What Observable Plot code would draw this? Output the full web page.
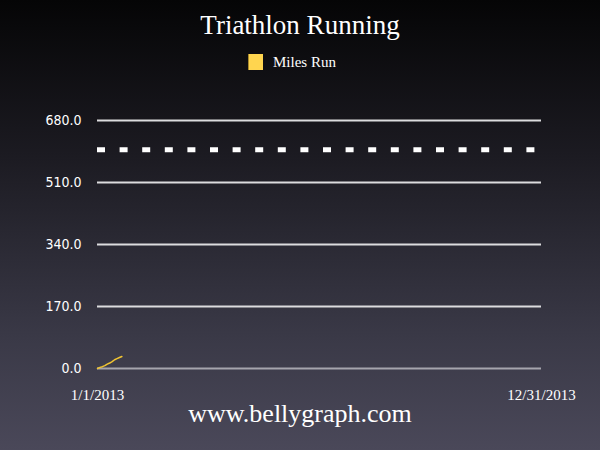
<!DOCTYPE html>
<html>
<head>
<meta charset="utf-8">
<script src="https://cdn.jsdelivr.net/npm/d3@7"></script>
<script src="https://cdn.jsdelivr.net/npm/@observablehq/plot@0.6"></script>
<style>
  html, body { margin: 0; padding: 0; background: #000; }
  #wrap {
    position: relative; width: 600px; height: 450px; overflow: hidden;
    background: linear-gradient(to bottom, #050506 0%, #1c1b22 35%, #3a3947 75%, #4a4859 100%);
    font-family: "Liberation Serif", "Times New Roman", serif; color: #fff;
  }
  #title { position: absolute; left: 0; width: 600px; top: 8px; text-align: center; font-size: 27px; line-height: 34px; }
  #legend { position: absolute; left: 248px; top: 53px; height: 18px; display: flex; align-items: center; font-size: 15px; }
  #legend .sw { width: 15px; height: 16px; background: #ffd54f; border-left: 1px solid #a8892c; box-sizing: border-box; margin-right: 10px; }
  #credit { position: absolute; left: 0; width: 600px; top: 398px; text-align: center; font-size: 26px; line-height: 32px; }
  #chart { position: absolute; left: 0; top: 0; }
</style>
</head>
<body>
<div id="wrap">
  <div id="title">Triathlon Running</div>
  <div id="legend"><div class="sw"></div><span>Miles Run</span></div>
  <div id="chart"></div>
  <div id="credit">www.bellygraph.com</div>
</div>
<script>
// Data
const runDates = ["2013-01-01","2013-01-03","2013-01-05","2013-01-07","2013-01-09","2013-01-11","2013-01-13","2013-01-15","2013-01-17","2013-01-19","2013-01-21"];
const runMiles = [0, 3, 5, 8, 12, 15, 19, 24, 27, 30, 33];
const yTicks = [0, 170, 340, 510, 680];
const xTickDates = ["2013-01-01", "2013-12-31"];
const xTickLabels = ["1/1/2013", "12/31/2013"];
const goalMiles = [600];

const parse = d3.utcParse("%Y-%m-%d");
const runs = runDates.map((d, i) => ({date: parse(d), miles: runMiles[i]}));
const xTicks = xTickDates.map(parse);

const plot = Plot.plot({
  width: 600,
  height: 450,
  marginLeft: 97,
  marginRight: 59,
  marginTop: 120,
  marginBottom: 82,
  style: {background: "transparent", color: "#fff", overflow: "visible"},
  x: {type: "utc", domain: [xTicks[0], xTicks[1]]},
  y: {domain: [0, 680]},
  marks: [
    Plot.ruleY(yTicks.filter(v => v !== 0), {stroke: "#dcdcde", strokeWidth: 2}),
    Plot.ruleY([0], {stroke: "#a6a5ad", strokeWidth: 2}),
    Plot.ruleY(goalMiles, {stroke: "#ffffff", strokeWidth: 5, strokeDasharray: "8,14.6"}),
    Plot.line(runs, {x: "date", y: "miles", stroke: "#f2c531", strokeWidth: 1.5}),
    Plot.axisY({ticks: yTicks, tickSize: 0, tickPadding: 16, tickFormat: d3.format(".1f"),
      fontFamily: "DejaVu Sans Condensed, DejaVu Sans, sans-serif", fontSize: 14, fill: "#fff", label: null}),
    Plot.axisX({ticks: xTicks, tickSize: 0, tickPadding: 21,
      tickFormat: (d, i) => xTickLabels[i],
      fontFamily: "Liberation Serif, serif", fontSize: 15, fill: "#fff", label: null})
  ]
});
document.getElementById("chart").appendChild(plot);
</script>
</body>
</html>
